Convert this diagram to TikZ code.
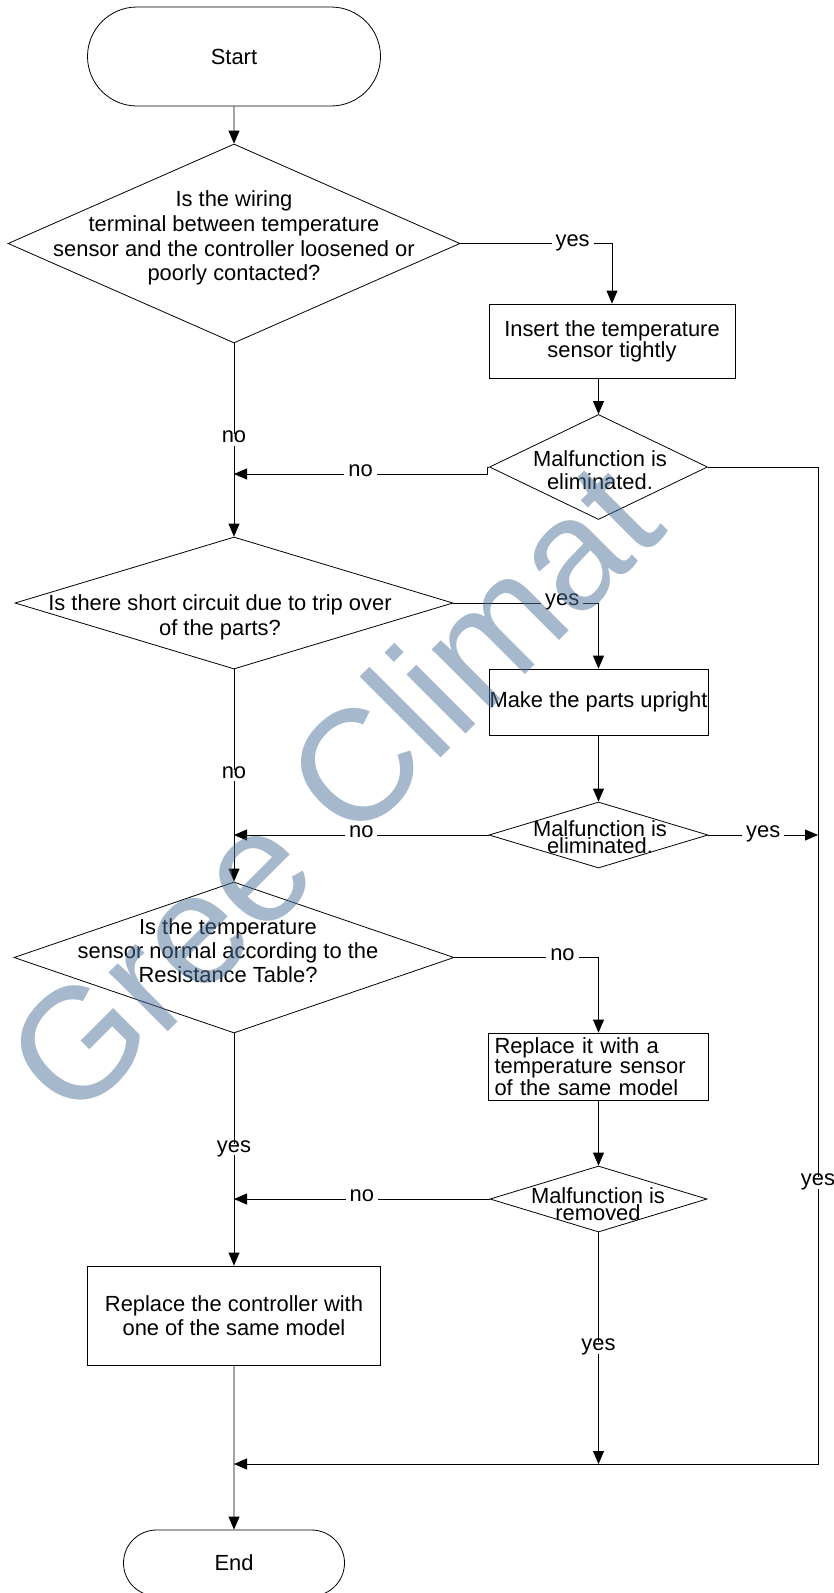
\documentclass[tikz,border=0pt]{standalone}
\usepackage{fontspec}
\setmainfont{Liberation Sans}
\usetikzlibrary{positioning, calc, shapes.geometric, shapes.misc, arrows.meta}

\definecolor{wmblue}{RGB}{77,113,153}
\tikzset{
  term/.style={rounded rectangle, draw, inner sep=0pt},
  box/.style={rectangle, draw, inner sep=1pt, align=center},
  dec/.style={diamond, draw, inner sep=0pt},
  dtext/.style={align=center, inner sep=0pt},
  lbl/.style={fill=white, inner xsep=4pt, inner ysep=1pt, text height=0.75em, text depth=0.2em},
  wm/.style={rotate=45, inner sep=0pt, text=wmblue, opacity=0.5, font=\fontsize{158}{158}\selectfont}
}

\begin{document}
\begin{tikzpicture}[x=1pt, y=-1pt, line width=0.8pt, >={Triangle[length=13pt, width=11pt]}, font=\fontsize{21.9}{25}\selectfont]
			\useasboundingbox (0,0) rectangle (834,1593);
			% left column
			\node (start) [term, minimum width=293, minimum height=99] at (234,56.5) {Start};
			\node (d1) [dec, minimum width=452, minimum height=199] at (234,243.5) {};
			\node (t1) [dtext, font=\fontsize{21.9}{24.7}\selectfont] at (234,238) {Is the wiring\\terminal between temperature\\sensor and the controller loosened or\\poorly contacted?};
			\node (d3) [dec, minimum width=438, minimum height=132] at (234,603) {};
			\node (t3) [dtext] at (220,617) {Is there short circuit due to trip over\\of the parts?};
			\node (d5) [dec, minimum width=440, minimum height=151] at (234,957.5) {};
			\node (t5) [dtext, font=\fontsize{21.9}{24}\selectfont] at (228,951) {Is the temperature\\sensor normal according to the\\Resistance Table?};
			\node (box4) [box, minimum width=293, minimum height=99, font=\fontsize{21.9}{24}\selectfont] at (234,1315.5) {Replace the controller with\\one of the same model};
			\node (end) [term, minimum width=221, minimum height=66] at (234,1563) {End};
			
			% right column
			\node (box1) [box, minimum width=246, minimum height=74, font=\fontsize{21.9}{21}\selectfont] at (612,341) {Insert the temperature\\sensor tightly};
			\node (d2) [dec, minimum width=218, minimum height=105] at (598.5,467) {};
			\node (t2) [dtext, font=\fontsize{21.9}{23}\selectfont] at (600,470) {Malfunction is\\eliminated.};
			\node (box2) [box, minimum width=219, minimum height=66, inner sep=0pt] at (598.5,702) {Make the parts upright};
			\node (d4) [dec, minimum width=219, minimum height=66] at (598.5,835) {};
			\node (t4) [dtext, font=\fontsize{21.9}{16}\selectfont] at (600,837) {Malfunction is\\eliminated.};
			\node (box3) [box, minimum width=220, minimum height=67, text width=208, align=left, inner xsep=6pt, inner ysep=2pt, font=\fontsize{21.9}{20}\selectfont] at (598.5,1066.5) {Replace it with a\\temperature sensor\\of the same model};
			\node (d6) [dec, minimum width=217, minimum height=66] at (598.5,1199) {};
			\node (t6) [dtext, font=\fontsize{21.9}{14.5}\selectfont] at (598,1204) {Malfunction is\\removed};
			
			\coordinate (j1) at (234,474);
			\coordinate (j2) at (234,835);
			\coordinate (j3) at (234,1199);
			\coordinate (j4) at (234,1464);
			\coordinate (r2) at (818,1464);
			
			\draw [->] (start) -- (d1);
			\draw [->] (d1.east) -- node[lbl, pos=0.74] {yes} (d1.east -| box1.north) -- (box1.north);
			\draw [->] (box1.south -| d2.north) -- (d2.north);
			\draw [->] (d2.west) -- ++(-2,0) -- ++(0,7) -- node[lbl] {no} (j1);
			\draw [->] (d1.south) -- node[lbl] {no} (d3.north);
			\draw [->] (d2.east) -- (d2.east -| r2) -- node[lbl, pos=0.718] {yes} (r2) -- (j4);
			
			\draw [->] (d3.east) -- node[lbl, pos=0.75] {yes} (d3.east -| box2.north) -- (box2.north);
			\draw [->] (box2) -- (d4);
			\draw [->] (d4.west) -- node[lbl] {no} (j2);
			\draw [->] (d4.east) -- node[lbl] {yes} (d4.east -| r2);
			\draw [->] (d3.south) -- node[lbl] {no} (d5.north);
			
			\draw [->] (d5.east) -- node[lbl, pos=0.75] {no} (d5.east -| box3.north) -- (box3.north);
			\draw [->] (box3) -- (d6);
			\draw [->] (d6.west) -- node[lbl] {no} (j3);
			\draw [->] (d5.south) -- node[lbl] {yes} (box4.north);
			\draw [->] (d6.south) -- node[lbl] {yes} (d6.south |- j4);
			\draw [->] (box4) -- (end);
			
			% watermark
			\node (mark) [wm] at (332,788) {Gree Climat};
		\end{tikzpicture}
\end{document}
